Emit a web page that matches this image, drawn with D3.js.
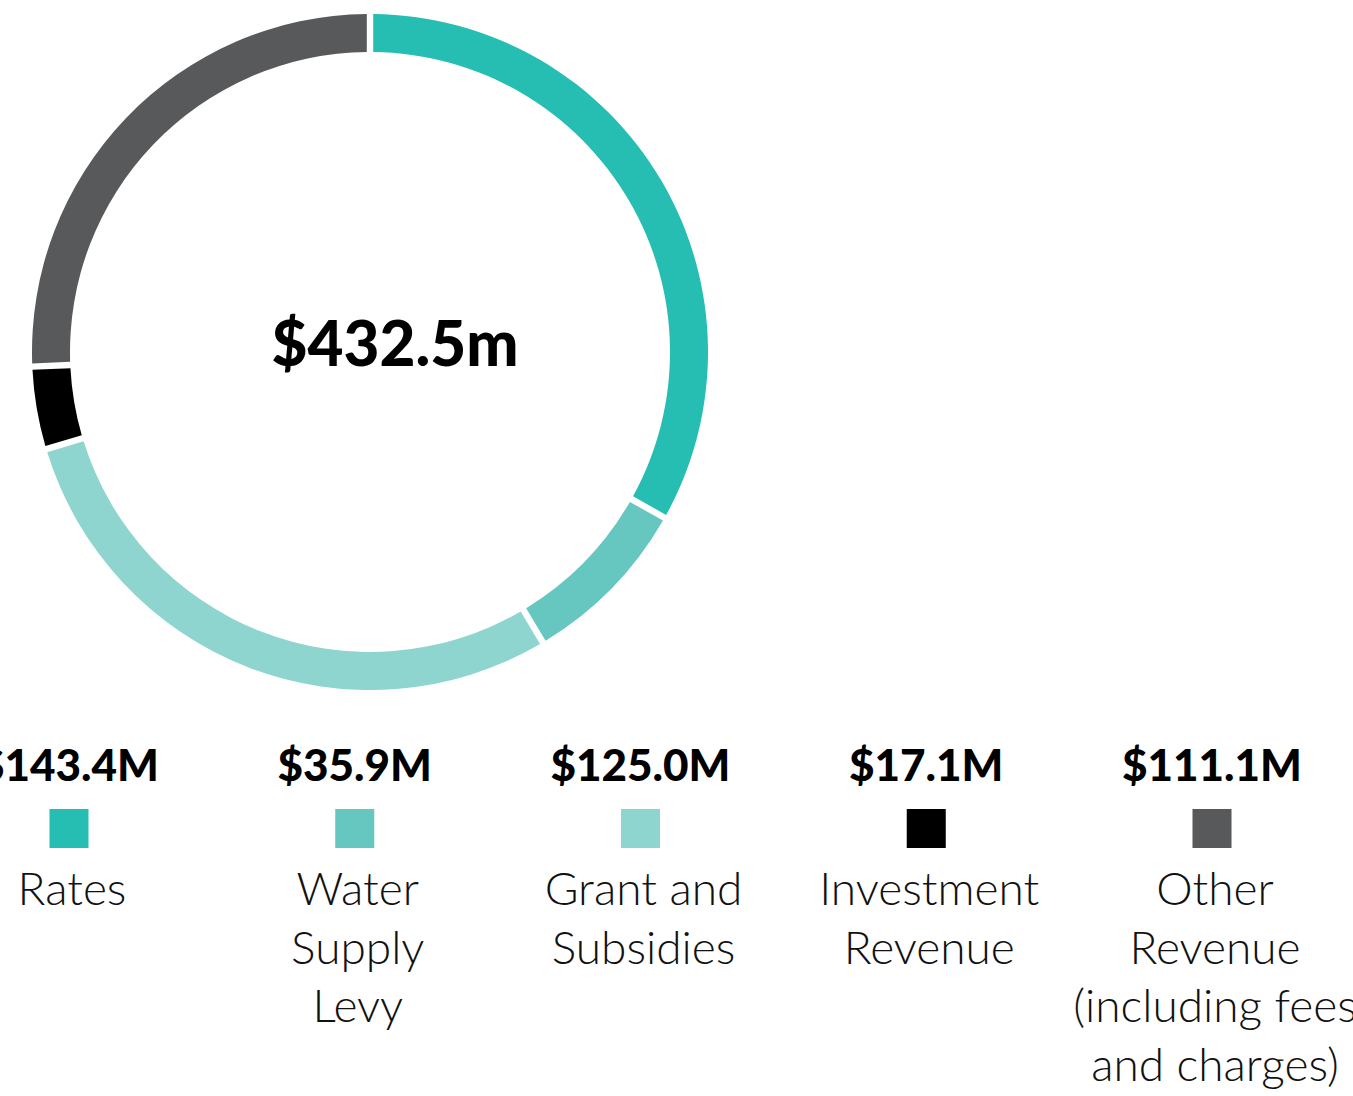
<!DOCTYPE html>
<html>
<head>
<meta charset="utf-8">
<script src="https://cdn.jsdelivr.net/npm/d3@7"></script>
<style>
  body { margin: 0; background: #fff; }
  svg { display: block; font-family: "Source Sans Pro", Lato, "Open Sans", sans-serif; }
</style>
</head>
<body>
<div id="chart"></div>
<script>
// data ------------------------------------------------------
var categories = ["Rates", "Water Supply Levy", "Grant and Subsidies", "Investment Revenue", "Other Revenue (including fees and charges)"];
var labelLines = [["Rates"], ["Water", "Supply", "Levy"], ["Grant and", "Subsidies"], ["Investment", "Revenue"], ["Other", "Revenue", "(including fees", "and charges)"]];
var values = [143.4, 35.9, 125.0, 17.1, 111.1];
var valueLabels = ["$143.4M", "$35.9M", "$125.0M", "$17.1M", "$111.1M"];
var totalLabel = "$432.5m";
var colors = ["#26bdb3", "#66c7c0", "#8fd5cf", "#000000", "#58595b"];

// set up svg ------------------------------------------------
var svgWidth = 1353;
var svgHeight = 1096;

var svg = d3.select("#chart")
  .append("svg")
  .attr("width", svgWidth)
  .attr("height", svgHeight);

var cx = 370, cy = 352;
var outerR = 338, innerR = 300;

var data = categories.map((c, i) => ({ name: c, value: values[i], color: colors[i], label: valueLabels[i], lines: labelLines[i] }));

// donut -----------------------------------------------------
var pie = d3.pie()
  .sort(null)
  .value(d => d.value);

var arc = d3.arc()
  .innerRadius(innerR)
  .outerRadius(outerR)
  .padAngle(0.019)
  .padRadius(outerR);

var donut = svg.append("g")
  .attr("transform", `translate(${cx}, ${cy})`);

donut.selectAll("path")
  .data(pie(data))
  .enter().append("path")
  .attr("d", arc)
  .attr("fill", d => d.data.color);

donut.append("text")
  .attr("x", 25)
  .attr("y", 14)
  .attr("text-anchor", "middle")
  .style("font-size", "62px")
  .style("font-weight", 900)
  .text(totalLabel);

// legend ----------------------------------------------------
var x = d3.scalePoint()
  .domain(categories)
  .range([69, 1212]);

var items = svg.append("g").selectAll("g")
  .data(data)
  .enter().append("g")
  .attr("transform", d => `translate(${x(d.name)}, 0)`);

items.append("text")
  .attr("y", 781)
  .attr("text-anchor", "middle")
  .style("font-size", "44px")
  .style("font-weight", 900)
  .text(d => d.label);

items.append("rect")
  .attr("x", -19.5)
  .attr("y", 809)
  .attr("width", 39)
  .attr("height", 39)
  .attr("fill", d => d.color);

items.append("text")
  .attr("text-anchor", "middle")
  .style("font-size", "46px")
  .style("font-weight", 300)
  .attr("fill", "#111")
  .selectAll("tspan")
  .data(d => d.lines)
  .enter().append("tspan")
  .attr("x", 3)
  .attr("y", (d, i) => 905 + i * 58.5)
  .text(d => d);
</script>
</body>
</html>
